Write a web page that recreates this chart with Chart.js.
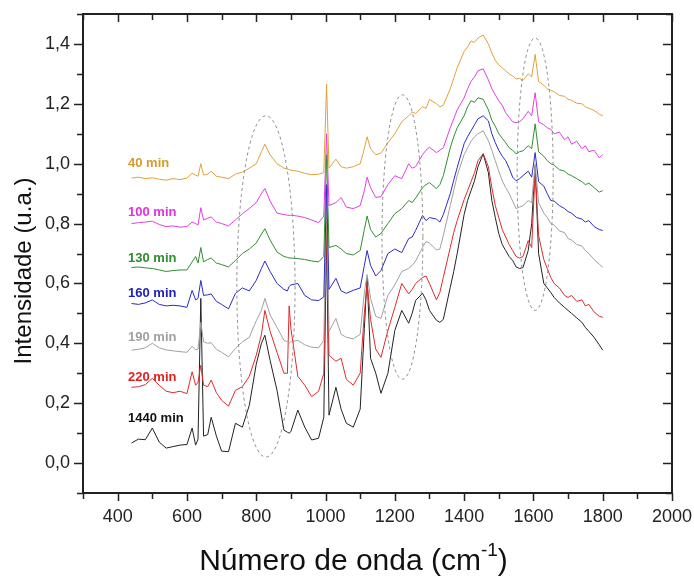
<!DOCTYPE html>
<html>
<head>
<meta charset="utf-8">
<script src="https://cdn.jsdelivr.net/npm/chart.js@4.4.1/dist/chart.umd.min.js"></script>
<style>
  html, body { margin: 0; padding: 0; background: #fff; }
  canvas { display: block; }
</style>
</head>
<body>
<canvas id="chart" width="694" height="579"></canvas>
<script>
"use strict";

// ── Data ──────────────────────────────────────────────────────────────────
const waveNumbers = [
  440, 460, 480, 500, 520, 540, 560, 580, 600, 615, 625, 632, 640, 648, 660, 670, 685, 700, 720, 740,
  760, 780, 800, 815, 825, 840, 860, 880, 890, 895, 900, 920, 940, 960, 980, 995, 1003, 1010, 1030, 1045,
  1060, 1080, 1100, 1112, 1120, 1130, 1145, 1160, 1180, 1200,
  1220, 1240, 1250, 1260, 1280, 1290, 1300, 1320, 1330, 1340, 1360, 1370, 1380, 1400, 1410, 1420, 1430, 1440, 1455, 1470,
  1480, 1490, 1500, 1510, 1520, 1530, 1540, 1550, 1560, 1570, 1585, 1595, 1605, 1615, 1630, 1640, 1650, 1660, 1675, 1690,
  1700, 1710, 1725, 1740, 1750, 1760, 1775, 1790, 1800,
];

const min40 = [
  .952, .955, .950, .953, .948, .945, .950, .947, .952, .968, .962, .958, 1.00, .962, .965, .975, .958, .955, .950, .965,
  .972, .985, 1.00, 1.04, 1.065, 1.03, 1.00, .985, .982, .980, .978, .975, .968, .963, .965, .970, 1.265, .985, 1.015, .990,
  .985, .990, 1.00, 1.05, 1.09, 1.05, 1.03, 1.035, 1.07, 1.10,
  1.14, 1.16, 1.172, 1.168, 1.19, 1.185, 1.215, 1.20, 1.19, 1.195, 1.25, 1.285, 1.32, 1.375, 1.39, 1.41, 1.405, 1.42, 1.43, 1.40,
  1.37, 1.345, 1.33, 1.32, 1.31, 1.30, 1.293, 1.283, 1.285, 1.278, 1.30, 1.29, 1.365, 1.275, 1.262, 1.25, 1.245, 1.24, 1.228, 1.225,
  1.215, 1.212, 1.202, 1.20, 1.19, 1.185, 1.178, 1.165, 1.16,
];
const min100 = [
  .800, .803, .805, .808, .797, .790, .792, .788, .790, .805, .800, .795, .853, .812, .818, .822, .805, .800, .792, .812,
  .833, .850, .870, .900, .917, .875, .835, .830, .828, .827, .828, .825, .820, .812, .803, .825, 1.10, .860, .870, .887,
  .855, .850, .860, .910, .955, .920, .887, .890, .930, .960,
  .950, 1.00, .985, .990, 1.03, 1.045, 1.055, 1.037, 1.045, 1.053, 1.12, 1.15, 1.18, 1.22, 1.25, 1.275, 1.29, 1.31, 1.317, 1.28,
  1.25, 1.23, 1.21, 1.195, 1.17, 1.155, 1.14, 1.137, 1.14, 1.15, 1.175, 1.16, 1.237, 1.14, 1.13, 1.12, 1.115, 1.10, 1.105, 1.08,
  1.09, 1.065, 1.075, 1.05, 1.06, 1.04, 1.045, 1.02, 1.03,
];
const min130 = [
  .653, .655, .652, .650, .645, .640, .643, .645, .645, .672, .690, .668, .720, .672, .680, .685, .668, .663, .655, .677,
  .700, .715, .735, .765, .783, .745, .705, .690, .687, .685, .685, .683, .680, .675, .672, .690, 1.03, .720, .727, .715,
  .700, .695, .710, .780, .825, .780, .755, .767, .800, .833,
  .850, .877, .870, .885, .920, .930, .937, .917, .930, .960, 1.053, 1.09, 1.12, 1.16, 1.19, 1.21, 1.205, 1.22, 1.215, 1.18,
  1.145, 1.125, 1.10, 1.085, 1.07, 1.053, 1.045, 1.033, 1.04, 1.043, 1.06, 1.05, 1.133, 1.04, 1.025, 1.01, 1.00, .995, .980, .975,
  .965, .960, .950, .940, .930, .935, .920, .905, .910,
];
const min160 = [
  .533, .530, .535, .545, .530, .525, .527, .525, .520, .577, .545, .550, .610, .560, .562, .565, .540, .530, .515, .567,
  .585, .575, .610, .650, .675, .640, .600, .580, .575, .590, .595, .600, .560, .545, .543, .555, .930, .580, .617, .575,
  .567, .577, .585, .660, .710, .660, .625, .643, .700, .715,
  .703, .750, .755, .777, .827, .810, .820, .815, .805, .830, .900, .945, .987, 1.067, 1.09, 1.11, 1.13, 1.15, 1.16, 1.143,
  1.10, 1.07, 1.045, 1.025, 1.01, .985, .955, .943, .950, .960, .975, .955, 1.037, .940, .925, .900, .877, .875, .860, .850,
  .840, .835, .820, .815, .805, .810, .790, .780, .777,
];
const min190 = [
  .377, .380, .385, .400, .385, .378, .375, .372, .370, .390, .378, .380, .470, .405, .400, .402, .380, .370, .355, .383,
  .405, .420, .475, .510, .550, .495, .453, .410, .405, .400, .405, .410, .395, .387, .385, .410, .880, .440, .483, .430,
  .420, .415, .430, .570, .630, .550, .490, .483, .560, .595,
  .640, .650, .660, .675, .720, .740, .735, .712, .715, .760, .860, .910, .960, 1.03, 1.053, 1.075, 1.09, 1.10, 1.11, 1.077,
  1.045, 1.01, .975, .943, .920, .900, .875, .850, .855, .860, .877, .870, 1.00, .870, .835, .820, .800, .795, .775, .770,
  .750, .745, .730, .725, .710, .700, .680, .665, .653,
];
const min220 = [
  .253, .255, .262, .283, .260, .240, .235, .240, .232, .305, .260, .270, .327, .260, .255, .277, .235, .210, .190, .243,
  .255, .290, .360, .430, .510, .440, .370, .300, .300, .525, .450, .290, .260, .222, .240, .300, .820, .360, .340, .350,
  .280, .260, .300, .500, .600, .480, .380, .353, .443, .520,
  .600, .565, .580, .600, .620, .625, .600, .545, .570, .620, .720, .770, .810, .880, .910, .940, .970, 1.01, 1.033, .990,
  .920, .860, .820, .780, .755, .730, .710, .690, .685, .690, .743, .720, .977, .760, .680, .650, .620, .600, .585, .560,
  .553, .560, .540, .545, .525, .530, .505, .490, .487,
];
const min1440 = [
  .067, .080, .078, .117, .070, .050, .055, .060, .062, .117, .060, .080, .550, .090, .095, .153, .090, .040, .038, .133,
  .120, .193, .330, .400, .427, .343, .243, .110, .103, .100, .105, .177, .120, .077, .083, .153, .760, .160, .253, .180,
  .133, .120, .180, .450, .620, .350, .300, .233, .300, .443,
  .510, .467, .500, .543, .567, .545, .510, .477, .470, .480, .587, .640, .700, .830, .877, .910, .943, .990, 1.033, .970,
  .877, .820, .767, .730, .710, .690, .677, .655, .650, .653, .710, .800, .993, .700, .600, .585, .570, .553, .535, .520,
  .510, .500, .485, .470, .453, .440, .420, .395, .377,
];

const seriesNames = ["40 min", "100 min", "130 min", "160 min", "190 min", "220 min", "1440 min"];
const seriesValues = [min40, min100, min130, min160, min190, min220, min1440];

const xMajorTicks = [400, 600, 800, 1000, 1200, 1400, 1600, 1800, 2000];
const xMinorTicks = [300, 500, 700, 900, 1100, 1300, 1500, 1700, 1900];
const yMajorTicks = [0, 0.2, 0.4, 0.6, 0.8, 1.0, 1.2, 1.4];
const yMinorTicks = [-0.1, 0.1, 0.3, 0.5, 0.7, 0.9, 1.1, 1.3, 1.5];

// ── Styling ───────────────────────────────────────────────────────────────
const LINE_COLORS = ["#e0a23a", "#e040e0", "#2f8f2f", "#2a2ac8", "#a0a0a0", "#e02a2a", "#222222"];
const TEXT_COLORS = ["#d89a2a", "#e030e0", "#2e8b2e", "#1c1cc0", "#a0a0a0", "#e02020", "#111111"];
const LABEL_AT = { x: 430, y: [1.0, 0.837, 0.683, 0.567, 0.42, 0.287, 0.15] };
// dashed highlight ellipses: [centre x, centre y, radius x, radius y] in data units
const ELLIPSES = [[828, 0.59, 84, 0.57], [1222, 0.755, 59, 0.475], [1605, 0.965, 52, 0.455]];
const FONT = "'Liberation Sans', Arial, sans-serif";
const INK = "#222";

const datasets = seriesNames.map((name, i) => ({
  label: name,
  data: waveNumbers.map((x, j) => ({ x, y: seriesValues[i][j] })),
  borderColor: LINE_COLORS[i],
  borderWidth: 1,
  pointRadius: 0,
  tension: 0,
}));

// ── Frame, ticks, ellipses, labels and titles ─────────────────────────────
const decor = {
  id: "decor",
  afterDatasetsDraw(chart) {
    const { ctx, scales: { x, y } } = chart;
    ctx.save();

    ctx.strokeStyle = "#8a8a8a";
    ctx.lineWidth = 1;
    ctx.setLineDash([3, 3]);
    ELLIPSES.forEach(([cx, cy, rx, ry]) => {
      const px = x.getPixelForValue(cx), py = y.getPixelForValue(cy);
      ctx.beginPath();
      ctx.ellipse(px, py, Math.abs(x.getPixelForValue(cx + rx) - px), Math.abs(y.getPixelForValue(cy + ry) - py), 0, 0, Math.PI * 2);
      ctx.stroke();
    });
    ctx.setLineDash([]);

    ctx.font = `bold 13px ${FONT}`;
    ctx.textBaseline = "middle";
    ctx.textAlign = "left";
    seriesNames.forEach((name, i) => {
      ctx.fillStyle = TEXT_COLORS[i];
      ctx.fillText(name, x.getPixelForValue(LABEL_AT.x), y.getPixelForValue(LABEL_AT.y[i]));
    });
    ctx.restore();
  },
  afterDraw(chart) {
    const { ctx, chartArea: a, scales: { x, y } } = chart;
    ctx.save();
    ctx.strokeStyle = INK;
    ctx.lineWidth = 2;
    ctx.strokeRect(a.left, a.top, a.right - a.left, a.bottom - a.top);

    ctx.lineWidth = 1.5;
    const xtick = (vals, len) => {
      vals.forEach((v) => {
        const px = Math.round(x.getPixelForValue(v)) + 0.5;
        ctx.beginPath();
        ctx.moveTo(px, a.bottom); ctx.lineTo(px, a.bottom + len);
        ctx.moveTo(px, a.top); ctx.lineTo(px, a.top + len);
        ctx.stroke();
      });
    };
    const ytick = (vals, len) => {
      vals.forEach((v) => {
        const py = Math.round(y.getPixelForValue(v)) + 0.5;
        ctx.beginPath();
        ctx.moveTo(a.left, py); ctx.lineTo(a.left - len, py);
        ctx.moveTo(a.right, py); ctx.lineTo(a.right - len, py);
        ctx.stroke();
      });
    };
    xtick(xMajorTicks, 8); xtick(xMinorTicks, 6);
    ytick(yMajorTicks, 9); ytick(yMinorTicks, 6);

    // axis titles
    ctx.fillStyle = "#111";
    ctx.save();
    ctx.translate(24, 271);
    ctx.rotate(-Math.PI / 2);
    ctx.font = `24px ${FONT}`;
    ctx.textAlign = "center";
    ctx.textBaseline = "middle";
    ctx.fillText("Intensidade (u.a.)", 0, 0);
    ctx.restore();

    const main = "Número de onda (cm", sup = "-1", tail = ")";
    const base = 570;
    ctx.font = `30px ${FONT}`;
    const wMain = ctx.measureText(main).width, wTail = ctx.measureText(tail).width;
    ctx.font = `19px ${FONT}`;
    const wSup = ctx.measureText(sup).width;
    let left = 353.5 - (wMain + wSup + wTail) / 2;
    ctx.textAlign = "left";
    ctx.textBaseline = "alphabetic";
    ctx.font = `30px ${FONT}`;
    ctx.fillText(main, left, base);
    left += wMain;
    ctx.font = `19px ${FONT}`;
    ctx.fillText(sup, left, base - 14);
    left += wSup;
    ctx.font = `30px ${FONT}`;
    ctx.fillText(tail, left, base);
    ctx.restore();
  },
};

// ── Chart ─────────────────────────────────────────────────────────────────
const commaFmt = (v) => v.toFixed(1).replace(".", ",");

new Chart(document.getElementById("chart"), {
  type: "line",
  data: { datasets },
  options: {
    responsive: false,
    animation: false,
    devicePixelRatio: 1,
    layout: { padding: { top: 14, right: 22, left: 0, bottom: 0 } },
    scales: {
      x: {
        type: "linear",
        min: 300,
        max: 2000,
        afterBuildTicks: (s) => { s.ticks = xMajorTicks.map((value) => ({ value })); },
        afterFit: (s) => { s.height = 86; s.paddingLeft = 0; s.paddingRight = 0; },
        grid: { drawOnChartArea: false, drawTicks: false },
        border: { display: false },
        ticks: { color: INK, font: { family: FONT, size: 18 }, padding: 13, maxRotation: 0, autoSkip: false, callback: (v) => String(v) },
      },
      y: {
        type: "linear",
        min: -0.1,
        max: 1.5,
        afterBuildTicks: (s) => { s.ticks = yMajorTicks.map((value) => ({ value })); },
        afterFit: (s) => { s.width = 83; s.paddingTop = 0; s.paddingBottom = 0; },
        grid: { drawOnChartArea: false, drawTicks: false },
        border: { display: false },
        ticks: { color: INK, font: { family: FONT, size: 18 }, padding: 13, callback: commaFmt },
      },
    },
    plugins: { legend: { display: false }, tooltip: { enabled: false } },
  },
  plugins: [decor],
});
</script>
</body>
</html>
